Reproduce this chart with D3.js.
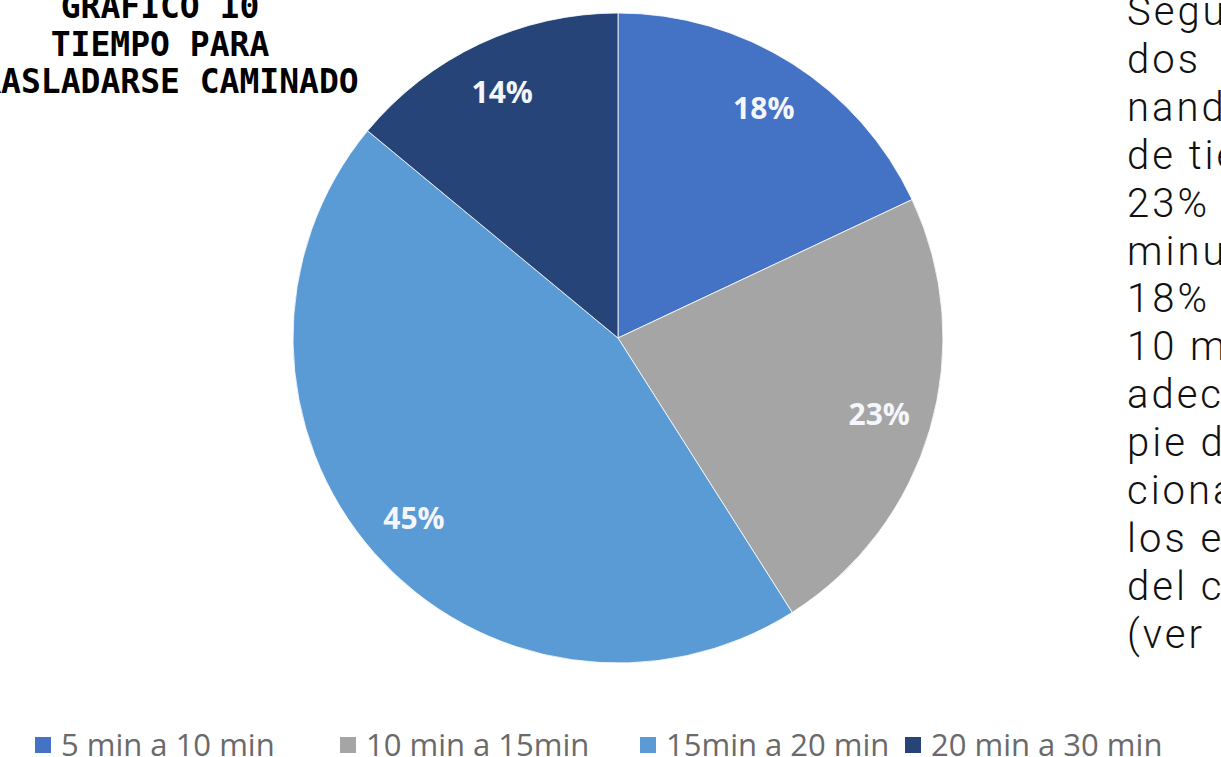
<!DOCTYPE html>
<html>
<head>
<meta charset="utf-8">
<script src="https://cdn.jsdelivr.net/npm/d3@7"></script>
<style>
  html, body { margin: 0; padding: 0; background: #ffffff; overflow: hidden; }
  svg { display: block; }
</style>
</head>
<body>
<svg id="chart" width="1221" height="757"></svg>
<script>
// ---- data ----
const categories = ["5 min a 10 min", "10 min a 15min", "15min a 20 min", "20 min a 30 min"];
const values = [18, 23, 45, 14];
const colors = ["#4472C4", "#A5A5A5", "#5B9BD5", "#264478"];
const titleLines = ["GRÁFICO 10", "TIEMPO PARA", "TRASLADARSE CAMINADO"];
const sideText = ["Según", "dos", "nando", "de tiempo", "23%", "minutos", "18%", "10 min", "adecuado", "pie de", "cionado", "los estudiantes", "del colegio", "(ver"];

const svg = d3.select("#chart");
const cx = 618, cy = 338, R = 325, labelR = 272;

const pie = d3.pie().sort(null).value(d => d.value);
const arcs = pie(categories.map((c, i) => ({ cat: c, value: values[i], color: colors[i] })));
const arc = d3.arc().innerRadius(0).outerRadius(R);
const labelArc = d3.arc().innerRadius(labelR).outerRadius(labelR);
const total = d3.sum(values);

const g = svg.append("g").attr("transform", `translate(${cx},${cy})`);
g.selectAll("path").data(arcs).join("path")
  .attr("d", arc)
  .attr("fill", d => d.data.color)
  .attr("stroke", "#ffffff")
  .attr("stroke-width", 0.8);

g.selectAll("text").data(arcs).join("text")
  .attr("transform", d => `translate(${labelArc.centroid(d)})`)
  .attr("text-anchor", "middle")
  .attr("dy", "0.36em")
  .attr("font-family", "'Open Sans', sans-serif")
  .attr("font-weight", 700)
  .attr("font-size", 30)
  .attr("fill", "#f4f6fb")
  .text(d => Math.round(d.data.value / total * 100) + "%");

// ---- title ----
const title = svg.append("text")
  .attr("font-family", "'DejaVu Sans Mono', monospace")
  .attr("font-weight", 700)
  .attr("font-size", 33)
  .attr("fill", "#000000")
  .attr("text-anchor", "middle");
titleLines.forEach((t, i) => {
  title.append("tspan").attr("x", 160).attr("y", 18 + i * 37.5).text(t);
});

// ---- side paragraph (cut by the window edge) ----
const side = svg.append("text")
  .attr("font-family", "Roboto, sans-serif")
  .attr("font-weight", 300)
  .attr("font-size", 40)
  .attr("letter-spacing", 3)
  .attr("fill", "#111111");
sideText.forEach((t, i) => {
  side.append("tspan").attr("x", 1127).attr("y", 25 + i * 47.9).text(t);
});

// ---- legend ----
const legendX = [35, 340, 640, 905];
const legend = svg.append("g");
const items = legend.selectAll("g").data(arcs).join("g")
  .attr("transform", (d, i) => `translate(${legendX[i]},745)`);
items.append("rect")
  .attr("x", 0).attr("y", -8).attr("width", 16).attr("height", 16)
  .attr("fill", d => d.data.color);
items.append("text")
  .attr("x", 26).attr("y", 0).attr("dy", "0.35em")
  .attr("font-family", "'Open Sans', sans-serif")
  .attr("font-size", 31)
  .attr("fill", "#6a6a6a")
  .text(d => d.data.cat);
</script>
</body>
</html>
